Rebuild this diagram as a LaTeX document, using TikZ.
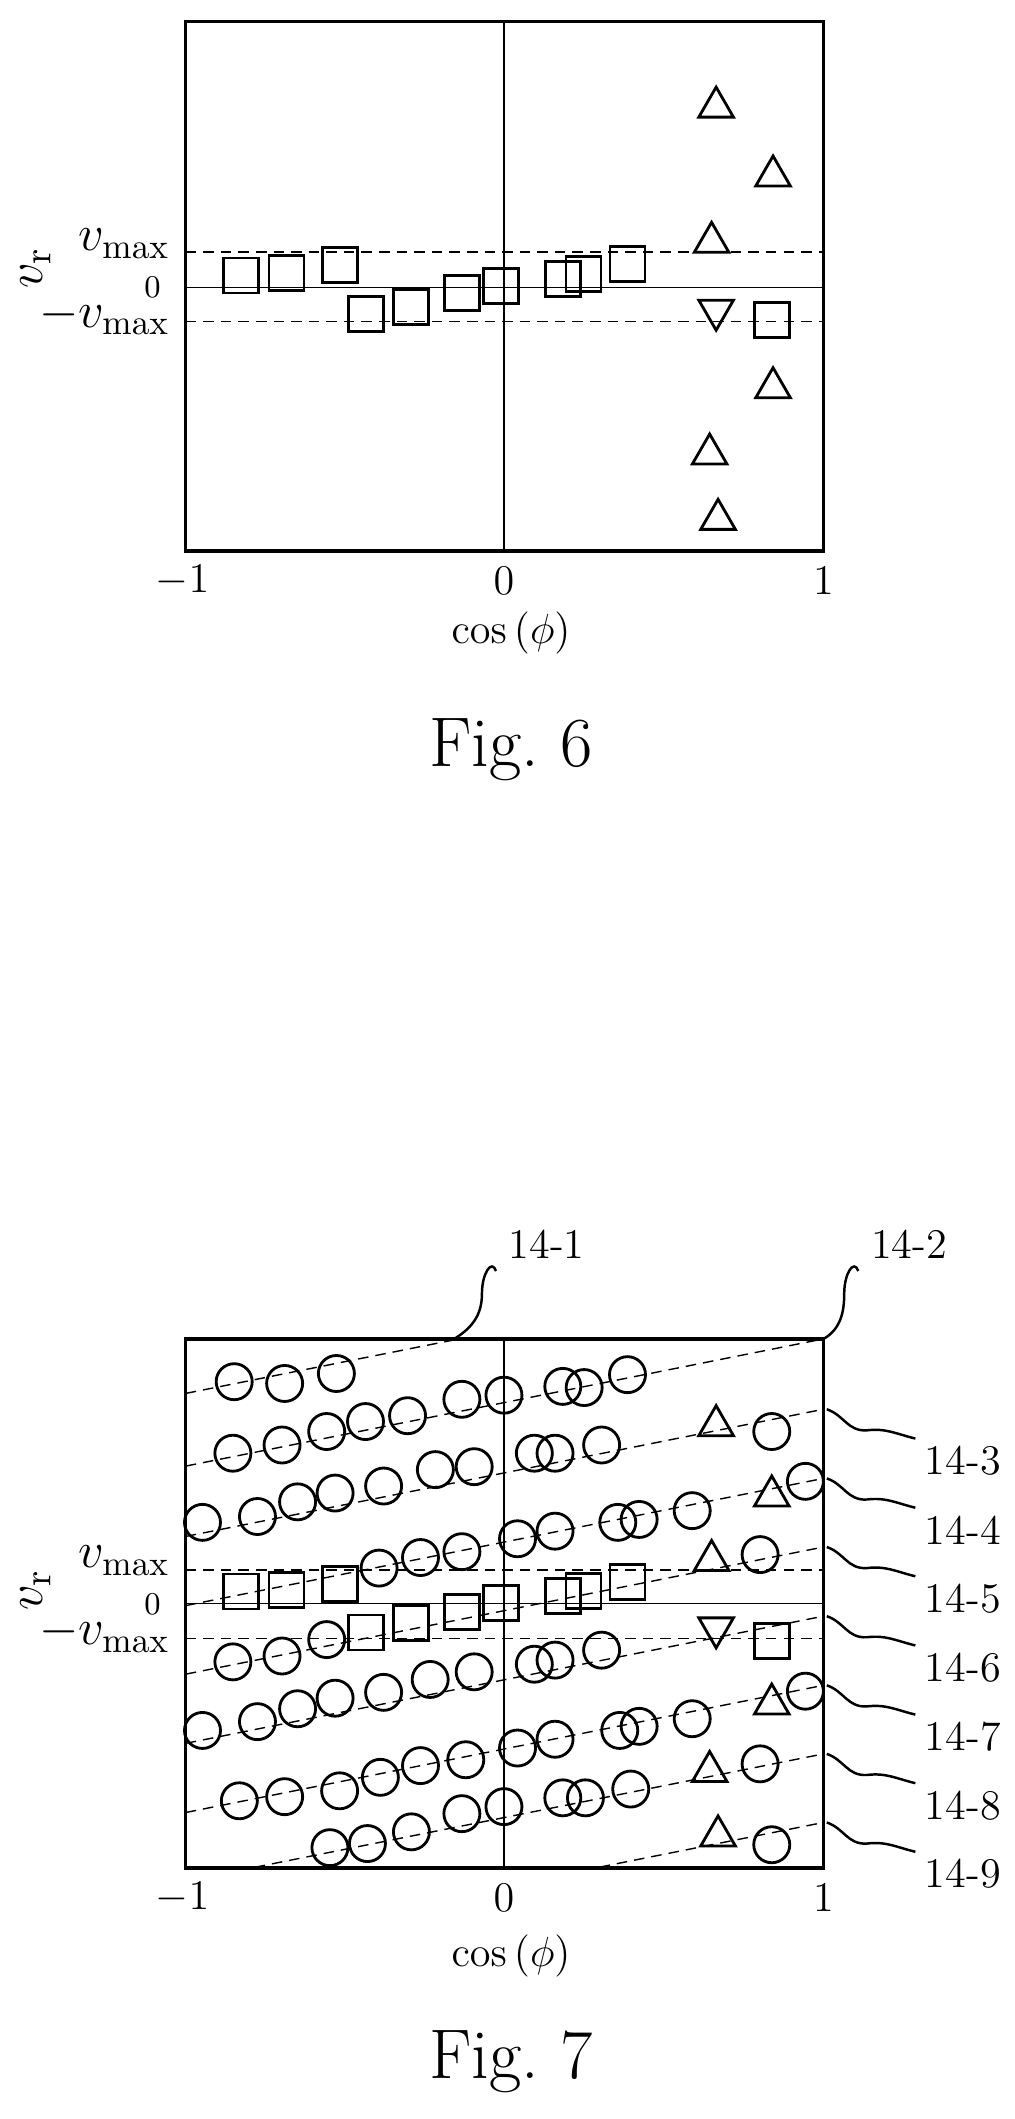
\documentclass[tikz,border=0pt]{standalone}
\usepackage{amsmath}
\usepackage{tikz}
\usetikzlibrary{shapes.geometric}

\begin{document}
\begin{tikzpicture}[
            x=0.01cm, y=-0.01cm, % pixel grid, y downwards
            sq/.style = {draw, rectangle, line width=0.8pt, minimum size=0.35cm, inner sep=0pt},
            circ/.style = {draw, circle, line width=0.8pt, minimum size=0.36cm, inner sep=0pt},
            tri/.style = {draw, regular polygon, regular polygon sides=3, line width=0.8pt,
                          minimum size=0.4cm, inner sep=0pt},
            dtri/.style = {tri, shape border rotate=180},
            box/.style = {line width=1pt},
            thin axis/.style = {line width=0.4pt},
            guide/.style = {densely dashed, line width=0.4pt},
            lead/.style = {line width=0.7pt},
            tick/.style = {font=\fontsize{12}{14}\selectfont},
            semithick
            ]
            \useasboundingbox (0,0) rectangle (1014,2119);

            % Fig. 6
            \begin{scope}[xscale=0.6469, yscale=0.5102]
            \draw[guide] (287,494) -- (1273,494);
            \draw[guide] (287,630) -- (1273,630);
            \draw[thin axis] (287,563) -- (1273,563);
            \draw[thin axis] (779,42) -- (779,1080);
            \draw[box] (287,42) rectangle (1273,1080);
            \foreach \px/\py [count=\i] in {373/540,443/535,526/520,566/615,635/602,714/574,
                                           775/560,870/547,902/537,970/518,1193/628}
                \node[sq] (s6\i) at (\px,\py) {};
            \foreach \px/\py [count=\i] in {1107/210,1195/345,1100/475,1195/760,1097/890,1110/1018}
                \node[tri] (t6\i) at (\px,\py) {};
            \node[dtri] (d6) at (1107,608) {};

            \node[anchor=east, font=\fontsize{14}{16}\selectfont] (vmax6) at (282,478) {$v_{\max}$};
            \node[anchor=east, font=\fontsize{9}{11}\selectfont] (zero6) at (268,563) {$0$};
            \node[anchor=east, font=\fontsize{14}{16}\selectfont] (mvmax6) at (282,620) {$-v_{\max}$};
            \node[rotate=90, font=\fontsize{15}{17}\selectfont] (vr6) at (55,525) {$v_{\mathrm{r}}$};
            \node[tick] (xa6) at (282,1138) {$-1$};
            \node[tick] (xb6) at (779,1138) {$0$};
            \node[tick] (xc6) at (1273,1138) {$1$};
            \node[font=\fontsize{13}{15}\selectfont] (cos6) at (790,1240) {$\cos\,(\phi)$};
            \node[font=\fontsize{20}{24}\selectfont] (fig6) at (790,1470) {Fig.~6};
            \end{scope}

            % Fig. 7
            \begin{scope}[shift={(0,1200)}, xscale=0.6469, yscale=0.5861]
            \begin{scope}
            \clip (287,237) rectangle (1273,1140);
            \foreach \c in {113,237,357,475,592,710,828,945,1062}
                \draw[guide] (287,{\c+217}) -- (1273,\c);
            \end{scope}
            \draw[guide] (287,631) -- (1273,631);
            \draw[guide] (287,748) -- (1273,748);
            \draw[thin axis] (287,688) -- (1273,688);
            \draw[thin axis] (779,237) -- (779,1140);
            \draw[box] (287,237) rectangle (1273,1140);

            \foreach \px/\py [count=\i] in {362/310,440/313,520/296,
                360/432,436/418,505/395,565/378,630/368,714/340,779/333,870/318,903/320,970/298,
                313/550,398/540,460/515,518/500,593/488,673/460,733/455,826/432,858/432,930/418,1193/395,
                586/628,650/610,714/600,800/578,858/565,955/550,988/545,1070/530,1245/480,1175/605,
                360/788,436/778,505/750,826/792,858/785,930/768,
                313/905,398/890,460/868,518/850,593/840,665/818,733/805,
                800/935,858/920,958/905,988/898,1070/885,1245/838,
                370/1025,440/1018,525/1008,588/985,650/965,720/955,1175/962,
                779/1035,870/1020,905/1020,975/1005,
                510/1105,568/1098,636/1078,714/1047,1193/1100}
                \node[circ] (c7\i) at (\px,\py) {};
            \foreach \px/\py [count=\i] in {373/668,443/665,526/655,566/738,635/722,714/703,
                                           775/688,870/675,902/667,970/652,1193/752}
                \node[sq] (s7\i) at (\px,\py) {};
            \foreach \px/\py [count=\i] in {1107/385,1193/505,1100/615,1193/860,1097/975,1110/1085}
                \node[tri] (t7\i) at (\px,\py) {};
            \node[dtri] (d7) at (1107,730) {};

            % leaders
            \coordinate (e1) at (702,237);
            \coordinate (e2) at (1273,237);
            \node[font=\fontsize{12}{14}\selectfont] (l1) at (845,75) {14-1};
            \node[font=\fontsize{12}{14}\selectfont] (l2) at (1405,75) {14-2};
            \draw[lead] (e1) .. controls (735,215) and (745,190) .. (745,160)
                             .. controls (745,125) and (760,100) .. (l1.south west);
            \draw[lead] (e2) .. controls (1300,220) and (1305,190) .. (1305,160)
                             .. controls (1305,125) and (1320,100) .. (l2.south west);
            \foreach \c/\k [count=\i] in {357/3,475/4,592/5,710/6,828/7,945/8,1062/9}{
                \coordinate (r\k) at (1278,\c);
                \node[anchor=west, font=\fontsize{12}{14}\selectfont] (l\k) at (1410,{\c+88}) {14-\k};
                \draw[lead] (r\k) .. controls (1305,\c+10) and (1310,\c+38) .. (1340,\c+36)
                                  .. controls (1370,\c+32) and (1385,\c+42) .. (1415,\c+50);
            }

            \node[anchor=east, font=\fontsize{14}{16}\selectfont] (vmax7) at (282,615) {$v_{\max}$};
            \node[anchor=east, font=\fontsize{9}{11}\selectfont] (zero7) at (268,690) {$0$};
            \node[anchor=east, font=\fontsize{14}{16}\selectfont] (mvmax7) at (282,740) {$-v_{\max}$};
            \node[rotate=90, font=\fontsize{15}{17}\selectfont] (vr7) at (55,665) {$v_{\mathrm{r}}$};
            \node[tick] (xa7) at (282,1190) {$-1$};
            \node[tick] (xb7) at (779,1190) {$0$};
            \node[tick] (xc7) at (1273,1190) {$1$};
            \node[font=\fontsize{13}{15}\selectfont] (cos7) at (790,1290) {$\cos\,(\phi)$};
            \node[font=\fontsize{20}{24}\selectfont] (fig7) at (790,1470) {Fig.~7};
            \end{scope}
        \end{tikzpicture}
\end{document}
